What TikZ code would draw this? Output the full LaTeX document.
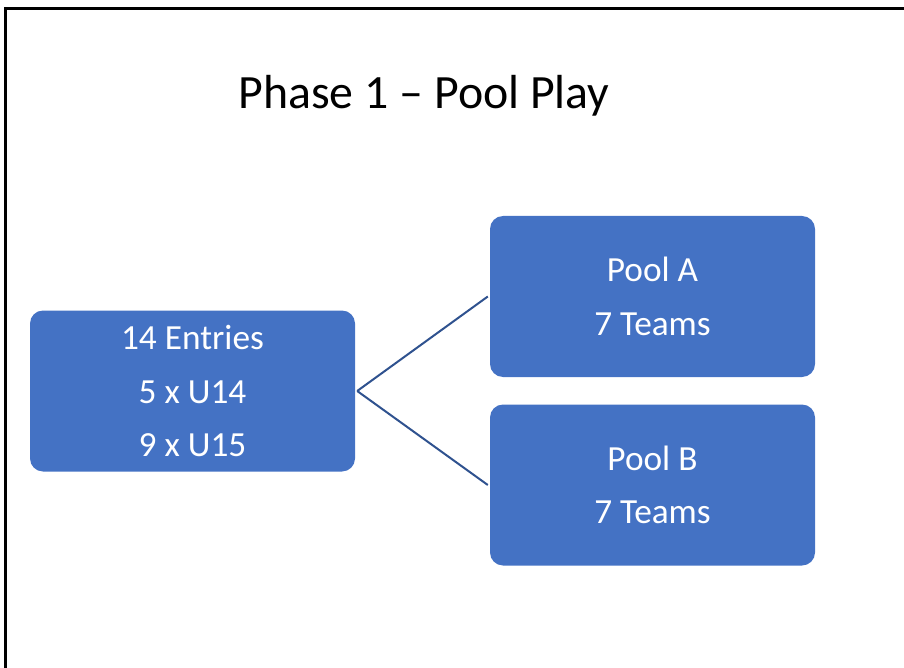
\documentclass[tikz,border=0pt]{standalone}
\usepackage{fontspec}
\setmainfont{Carlito}
\definecolor{boxblue}{HTML}{4472C4}
\definecolor{lineblue}{HTML}{2F528F}
\tikzset{
  teambox/.style={rectangle, rounded corners=13pt, fill=boxblue, text=white,
    minimum width=325pt, minimum height=161pt, align=center, inner sep=0pt,
    font=\fontsize{35.3pt}{53.5pt}\selectfont},
  link/.style={draw=lineblue, line width=2pt}
}
\begin{document}
\begin{tikzpicture}[x=1pt,y=-1pt]
\useasboundingbox (0,0) rectangle (904,668);
\draw[line width=3pt] (5.5,668) -- (5.5,9) -- (904,9);

\node[anchor=base, font=\fontsize{47.8pt}{56pt}\selectfont] (title) at (424,109) {Phase 1 -- Pool Play};

\node[teambox] (entries) at (192.5,391) {14 Entries\\5 x U14\\9 x U15};
\node[teambox] (poolA) at (652.5,296.5) {Pool A\\7 Teams};
\node[teambox] (poolB) at (652.5,485) {Pool B\\7 Teams};

\draw[link] (entries.east) ++(2,0) coordinate (fork) -- ([xshift=-2pt]poolA.west);
\draw[link] (fork) -- ([xshift=-2pt]poolB.west);
\end{tikzpicture}
\end{document}
